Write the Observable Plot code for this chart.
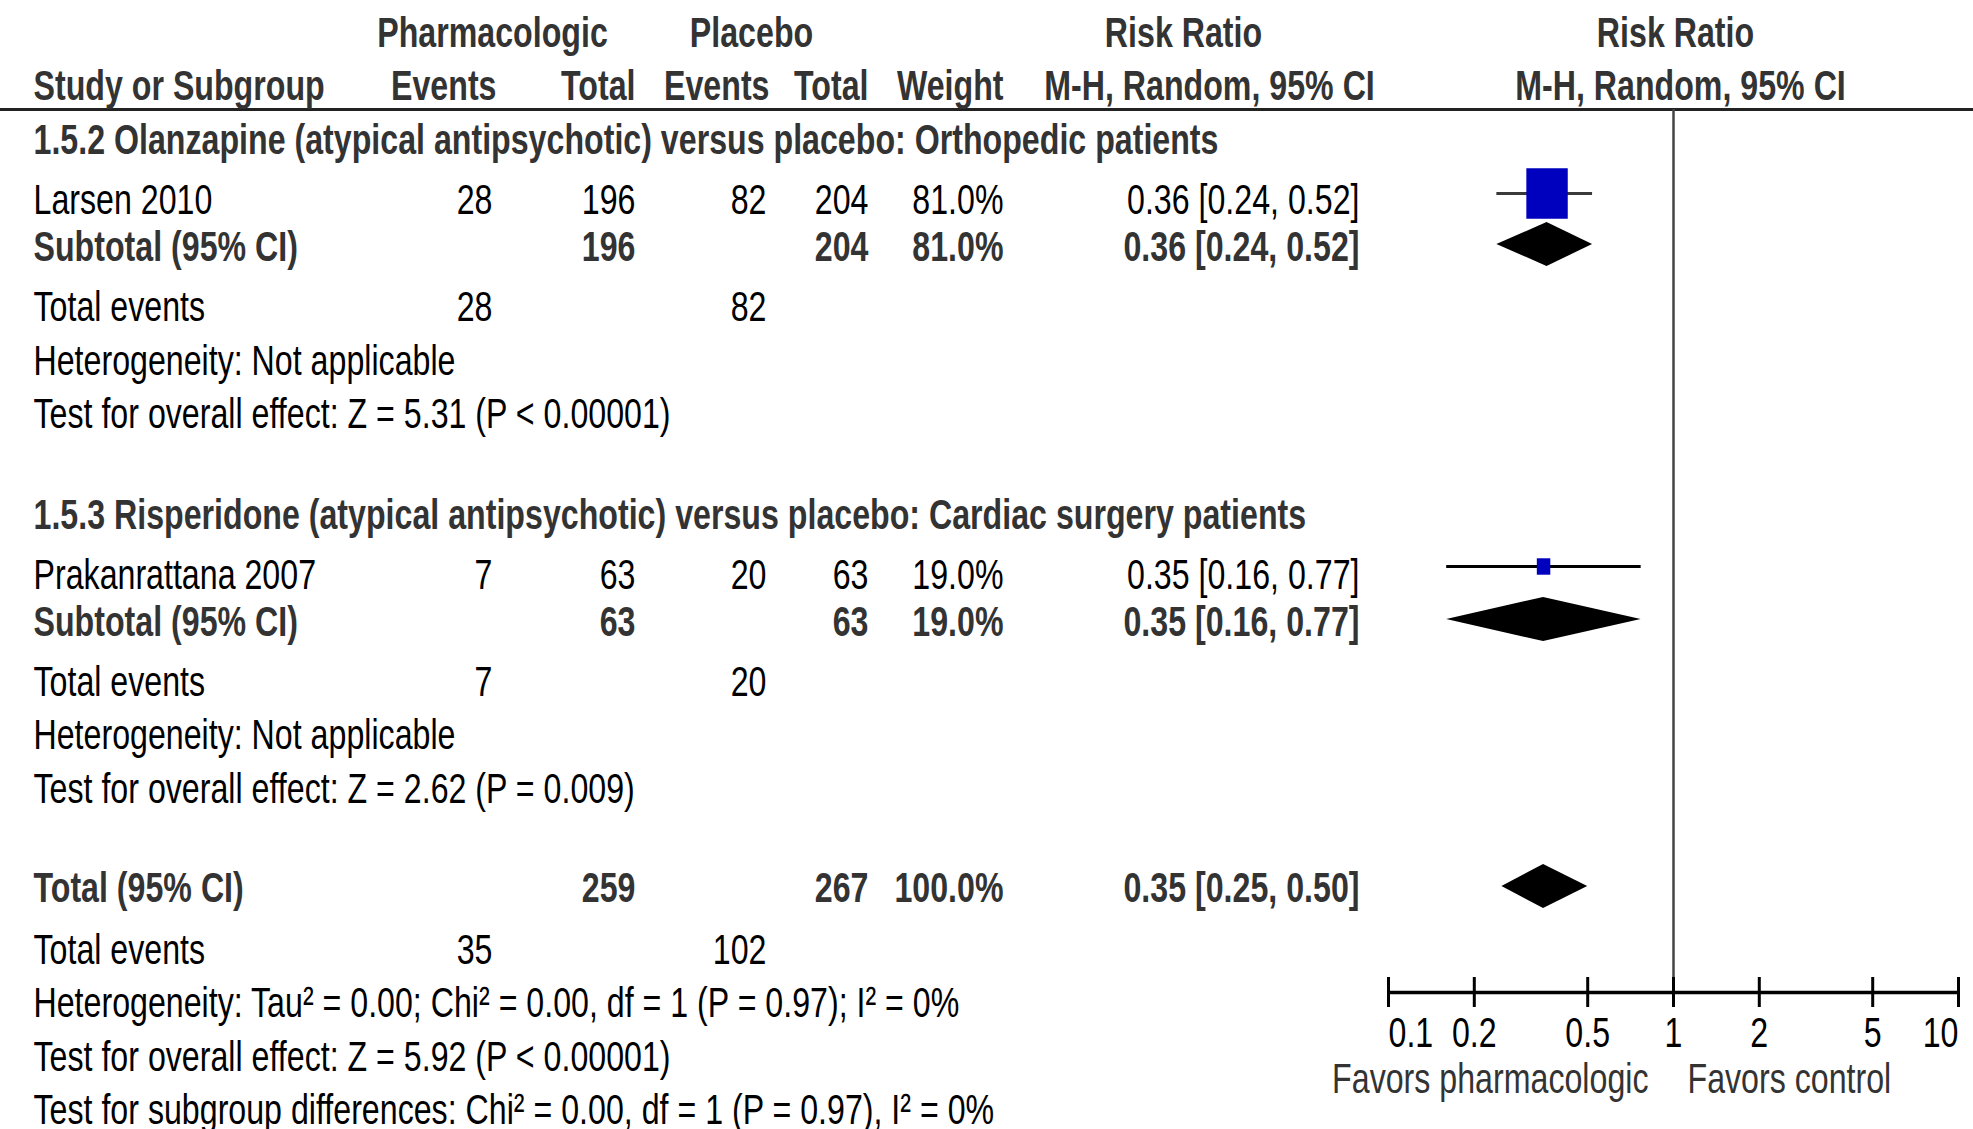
<!DOCTYPE html>
<html><head><meta charset="utf-8">
<script src="https://cdn.jsdelivr.net/npm/d3@7"></script>
<script src="https://cdn.jsdelivr.net/npm/@observablehq/plot@0.6"></script>
<style>html,body{margin:0;padding:0;background:#fff;} #chart svg{display:block}</style>
</head><body><div id="chart"></div>
<script>
// ---------- data ----------
const subgroupTitles = [
  "1.5.2 Olanzapine (atypical antipsychotic) versus placebo: Orthopedic patients",
  "1.5.3 Risperidone (atypical antipsychotic) versus placebo: Cardiac surgery patients"
];
const studies = ["Larsen 2010", "Prakanrattana 2007"];
const pharmEvents = [28, 7];
const pharmTotals = [196, 63];
const placeboEvents = [82, 20];
const placeboTotals = [204, 63];
const weights = [81.0, 19.0];
const rrEst = [0.36, 0.35];
const rrLow = [0.24, 0.16];
const rrHigh = [0.52, 0.77];
const subRR = [0.36, 0.35];
const subLow = [0.24, 0.16];
const subHigh = [0.52, 0.77];
const subHet = ["Heterogeneity: Not applicable", "Heterogeneity: Not applicable"];
const subEffect = ["Test for overall effect: Z = 5.31 (P < 0.00001)", "Test for overall effect: Z = 2.62 (P = 0.009)"];
const totalPharmEvents = 35, totalPlaceboEvents = 102;
const totalPharm = 259, totalPlacebo = 267, totalWeight = 100.0;
const totalRR = 0.35, totalLow = 0.25, totalHigh = 0.50;
const totalHet = "Heterogeneity: Tau² = 0.00; Chi² = 0.00, df = 1 (P = 0.97); I² = 0%";
const totalEffect = "Test for overall effect: Z = 5.92 (P < 0.00001)";
const subgroupDiff = "Test for subgroup differences: Chi² = 0.00, df = 1 (P = 0.97), I² = 0%";
const axisTicks = [0.1, 0.2, 0.5, 1, 2, 5, 10];
const axisTickLabels = ["0.1", "0.2", "0.5", "1", "2", "5", "10"];
const favorsLabels = ["Favors pharmacologic", "Favors control"];

// ---------- layout ----------
const FONT = '"Liberation Sans", Arial, sans-serif';
const FS = 43;
const NARROW = 0.748; // horizontal condensing to mimic a narrow face
const L = {
  head1: 33, head2: 86, rule: 109,
  groups: [
    {title: 140, study: 200, mark: 193, subtotal: 247, events: 307, het: 361, effect: 414},
    {title: 515, study: 575, mark: 566, subtotal: 622, events: 682, het: 735, effect: 789}
  ],
  total: 888, totEvents: 950, totHet: 1003, totEffect: 1057, subDiff: 1110,
  axis: 992, tickLen: 15, tickLabels: 1033, favors: 1079, diamondHalf: 22
};
const C = {label: 33, pe: 492, pt: 635, ce: 766, ct: 868, w: 1003, rr: 1359};

const fmtRR = (e, l, h) => `${e.toFixed(2)} [${l.toFixed(2)}, ${h.toFixed(2)}]`;
const fmtW = w => `${w.toFixed(1)}%`;

// ---------- text cells ----------
const cells = [];
const cell = (dx, anchor, y, text, style) => cells.push({dx, anchor, y, text, style});

// header
cell(492, "middle", L.head1, "Pharmacologic", "head");
cell(751, "middle", L.head1, "Placebo", "head");
cell(1183, "middle", L.head1, "Risk Ratio", "head");
cell(1675, "middle", L.head1, "Risk Ratio", "head");
cell(C.label, "start", L.head2, "Study or Subgroup", "head");
cell(496, "end", L.head2, "Events", "head");
cell(C.pt, "end", L.head2, "Total", "head");
cell(769, "end", L.head2, "Events", "head");
cell(C.ct, "end", L.head2, "Total", "head");
cell(C.w, "end", L.head2, "Weight", "head");
cell(1209, "middle", L.head2, "M-H, Random, 95% CI", "head");
cell(1680, "middle", L.head2, "M-H, Random, 95% CI", "head");

studies.forEach((s, i) => {
  const g = L.groups[i];
  cell(C.label, "start", g.title, subgroupTitles[i], "bold");
  cell(C.label, "start", g.study, s, "normal");
  cell(C.pe, "end", g.study, String(pharmEvents[i]), "normal");
  cell(C.pt, "end", g.study, String(pharmTotals[i]), "normal");
  cell(C.ce, "end", g.study, String(placeboEvents[i]), "normal");
  cell(C.ct, "end", g.study, String(placeboTotals[i]), "normal");
  cell(C.w, "end", g.study, fmtW(weights[i]), "normal");
  cell(C.rr, "end", g.study, fmtRR(rrEst[i], rrLow[i], rrHigh[i]), "normal");
  cell(C.label, "start", g.subtotal, "Subtotal (95% CI)", "bold");
  cell(C.pt, "end", g.subtotal, String(pharmTotals[i]), "bold");
  cell(C.ct, "end", g.subtotal, String(placeboTotals[i]), "bold");
  cell(C.w, "end", g.subtotal, fmtW(weights[i]), "bold");
  cell(C.rr, "end", g.subtotal, fmtRR(subRR[i], subLow[i], subHigh[i]), "bold");
  cell(C.label, "start", g.events, "Total events", "normal");
  cell(C.pe, "end", g.events, String(pharmEvents[i]), "normal");
  cell(C.ce, "end", g.events, String(placeboEvents[i]), "normal");
  cell(C.label, "start", g.het, subHet[i], "normal");
  cell(C.label, "start", g.effect, subEffect[i], "normal");
});
cell(C.label, "start", L.total, "Total (95% CI)", "bold");
cell(C.pt, "end", L.total, String(totalPharm), "bold");
cell(C.ct, "end", L.total, String(totalPlacebo), "bold");
cell(C.w, "end", L.total, fmtW(totalWeight), "bold");
cell(C.rr, "end", L.total, fmtRR(totalRR, totalLow, totalHigh), "bold");
cell(C.label, "start", L.totEvents, "Total events", "normal");
cell(C.pe, "end", L.totEvents, String(totalPharmEvents), "normal");
cell(C.ce, "end", L.totEvents, String(totalPlaceboEvents), "normal");
cell(C.label, "start", L.totHet, totalHet, "normal");
cell(C.label, "start", L.totEffect, totalEffect, "normal");
cell(C.label, "start", L.subDiff, subgroupDiff, "normal");

const styles = {
  head: {fill: "#333", fontWeight: "bold"},
  bold: {fill: "#333", fontWeight: "bold"},
  normal: {fill: "#000", fontWeight: "normal"}
};
const groupsText = d3.groups(cells, d => `${d.dx}|${d.anchor}|${d.style}`);
const textMarks = groupsText.map(([k, arr]) => Plot.text(arr, {
  y: "y", text: "text", frameAnchor: "left", dx: arr[0].dx, textAnchor: arr[0].anchor,
  fontSize: FS, fontFamily: FONT, ...styles[arr[0].style]
}));

// ---------- forest marks ----------
const studyData = studies.map((s, i) => ({
  y: L.groups[i].mark, est: rrEst[i], low: rrLow[i], high: rrHigh[i], w: weights[i],
  stroke: i === 0 ? "#3a3a3a" : "#000"
}));
const diamonds = [];
const addDiamond = (g, yc, e, l, h) => {
  diamonds.push({g, y: yc - L.diamondHalf, x1: e, x2: e});
  diamonds.push({g, y: yc, x1: l, x2: h});
  diamonds.push({g, y: yc + L.diamondHalf, x1: e, x2: e});
};
studies.forEach((s, i) => addDiamond("s" + i, L.groups[i].subtotal - 3, subRR[i], subLow[i], subHigh[i]));
addDiamond("total", L.total - 2, totalRR, totalLow, totalHigh);

const rectSymbol = {
  draw(ctx, size) {
    const a = 0.82, w = Math.sqrt(size * a), h = Math.sqrt(size / a);
    ctx.rect(-w / 2, -h / 2, w, h);
  }
};

const last = axisTicks.length - 1;
const chart = Plot.plot({
  width: 1973, height: 1129, margin: 0,
  x: {type: "log", domain: [0.1, 10], range: [1388, 1958], axis: null},
  y: {domain: [0, 1129], range: [0, 1129], axis: null},
  r: {type: "linear", domain: [19, 81], range: [8.4, 25.8]},
  style: {fontFamily: FONT, background: "#fff"},
  marks: [
    Plot.ruleY([L.rule], {stroke: "#222", strokeWidth: 3}),
    Plot.ruleX([1], {y1: L.rule, y2: L.axis, stroke: "#444", strokeWidth: 2.5}),
    Plot.ruleY(studyData, {y: "y", x1: "low", x2: "high", stroke: "stroke", strokeWidth: 3}),
    Plot.dot(studyData, {x: "est", y: "y", r: "w", symbol: rectSymbol, fill: "#0000bf", stroke: null}),
    Plot.areaX(diamonds, {y: "y", x1: "x1", x2: "x2", z: "g", fill: "#000", curve: "linear"}),
    Plot.ruleY([L.axis], {x1: axisTicks[0], x2: axisTicks[last], stroke: "#000", strokeWidth: 3.5}),
    Plot.ruleX(axisTicks, {x: d => d, y1: L.axis - L.tickLen, y2: L.axis + L.tickLen, stroke: "#000", strokeWidth: 3}),
    Plot.text(axisTicks.slice(1, last), {x: d => d, y: L.tickLabels, text: d => axisTickLabels[axisTicks.indexOf(d)], fontSize: FS, fontFamily: FONT, fill: "#000"}),
    Plot.text([axisTicks[0]], {x: d => d, y: L.tickLabels, text: () => axisTickLabels[0], textAnchor: "start", fontSize: FS, fontFamily: FONT, fill: "#000"}),
    Plot.text([axisTicks[last]], {x: d => d, y: L.tickLabels, text: () => axisTickLabels[last], textAnchor: "end", fontSize: FS, fontFamily: FONT, fill: "#000"}),
    Plot.text([favorsLabels[0]], {x: 1, y: L.favors, text: d => d, textAnchor: "end", dx: -25, fontSize: FS, fontFamily: FONT, fill: "#333"}),
    Plot.text([favorsLabels[1]], {x: 1, y: L.favors, text: d => d, textAnchor: "start", dx: 14, fontSize: FS, fontFamily: FONT, fill: "#333"}),
    ...textMarks
  ]
});
document.getElementById("chart").appendChild(chart);
// condense glyphs horizontally about each text's anchor (no narrow face is installed)
chart.querySelectorAll("text").forEach(t => {
  const x = parseFloat(t.getAttribute("x") || "0") || 0;
  const prev = t.getAttribute("transform") || "";
  t.setAttribute("transform", `${prev} translate(${x},0) scale(${NARROW},1) translate(${-x},0)`.trim());
});
</script>
</body></html>
